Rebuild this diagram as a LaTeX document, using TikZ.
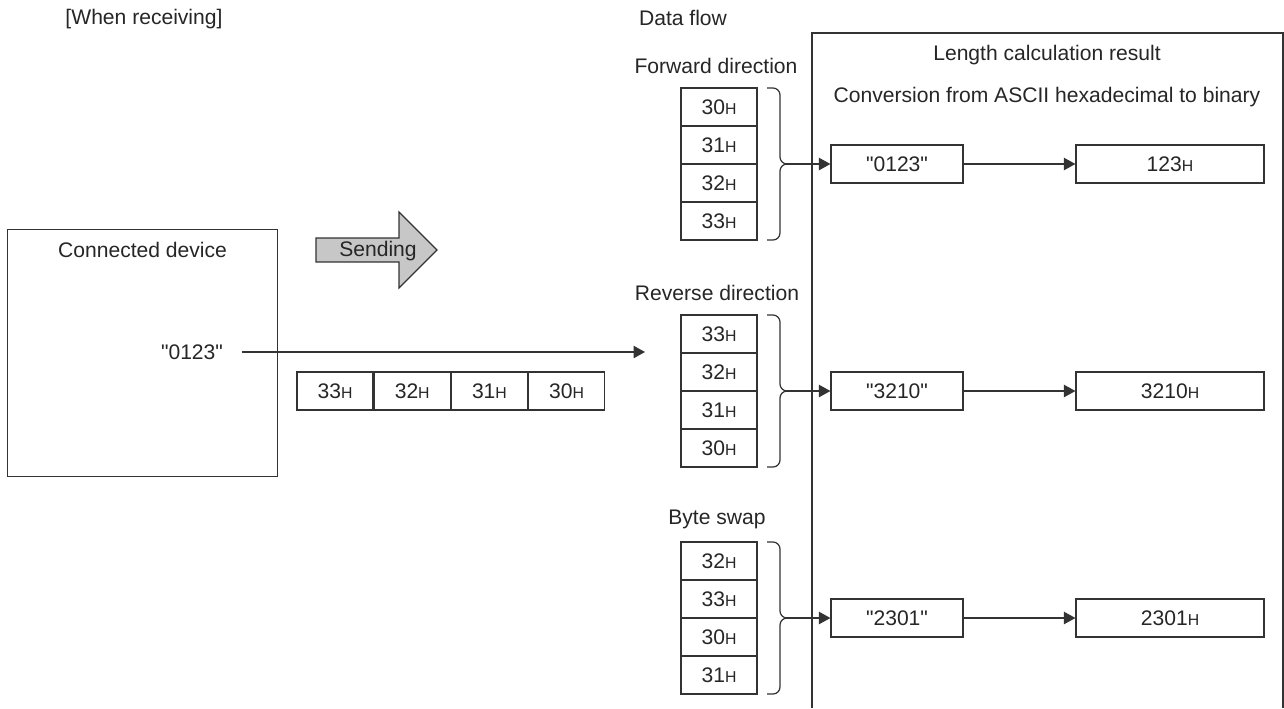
\documentclass[tikz,border=0pt]{standalone}
\usepackage{fontspec}
\setmainfont{Liberation Sans}
\usepackage{tikz}
\usetikzlibrary{arrows.meta,positioning,calc}
\usepackage{xcolor}

\newcommand\hexH[1]{#1{\fontsize{9}{9}\selectfont H}}
\newcommand\qstr[1]{\textquotedbl#1\textquotedbl}

\begin{document}
\begin{tikzpicture}[x=0.02cm,y=-0.02cm,>={Triangle[length=6.5pt,width=7pt]},
  color=black!80,line width=0.7pt,
  every node/.style={font=\fontsize{12}{14}\selectfont,text=black!85},
  cell/.style={draw,minimum width=1.52cm,minimum height=0.76cm,inner sep=0},
  res/.style={draw,minimum height=0.76cm,inner sep=0},
  node distance=0pt]
\useasboundingbox (0,0) rectangle (1284,708);
% titles
\node (W) at (144,19) {[When receiving]};
\node (DF) at (683,18) {Data flow};
% connected device
\node (D) [draw,minimum width=5.4cm,minimum height=4.94cm,anchor=north west] at (7,229) {};
\node (DT) [below=4pt of D.north] {Connected device};
\node (Q) [inner xsep=0.36cm] at (192,352) {\qstr{0123}};
\coordinate (Qin) at (645,352);
\draw[->] (Q.east) -- (Qin);
% sending arrow
\draw[fill=black!22] (316,238) -- (399,238) -- (399,212) -- (437,250) -- (399,288) -- (399,262) -- (316,262) -- cycle;
\node (S) at (378,251) {Sending};
% data on the line
\node (S1) [cell] at (335,391) {\hexH{33}};
\node (S2) [cell,right=of S1] {\hexH{32}};
\node (S3) [cell,right=of S2] {\hexH{31}};
\node (S4) [cell,right=of S3] {\hexH{30}};
% result frame
\draw (812,708) |- (1283,33) -- (1283,708);
\node (LC) at (1047,55) {Length calculation result};
\node (CV) at (1047,97) {Conversion from ASCII hexadecimal to binary};
% forward direction
\node (FD) at (716,66) {Forward direction};
\foreach \v [count=\i] in {30,31,32,33}
  \node (F\i) [cell] at (719,{107+38*(\i-1)}) {\hexH{\v}};
\draw[rounded corners=4pt] (767,88) -- (780,88) -- (780,164) -- (784,164);
\draw[rounded corners=4pt] (767,240) -- (780,240) -- (780,164) -- (784,164);
\coordinate (Ft) at (784,164);
\node (A1) [res,minimum width=2.64cm] at (897,164) {\qstr{0123}};
\node (V1) [res,minimum width=3.76cm] at (1170,164) {\hexH{123}};
\draw[->] (Ft) -- (A1);
\draw[->] (A1) -- (V1);
% reverse direction
\node (RD) at (717,293) {Reverse direction};
\foreach \v [count=\i] in {33,32,31,30}
  \node (R\i) [cell] at (719,{334+38*(\i-1)}) {\hexH{\v}};
\draw[rounded corners=4pt] (767,315) -- (780,315) -- (780,391) -- (784,391);
\draw[rounded corners=4pt] (767,467) -- (780,467) -- (780,391) -- (784,391);
\coordinate (Rt) at (784,391);
\node (A2) [res,minimum width=2.64cm] at (897,391) {\qstr{3210}};
\node (V2) [res,minimum width=3.76cm] at (1170,391) {\hexH{3210}};
\draw[->] (Rt) -- (A2);
\draw[->] (A2) -- (V2);
% byte swap
\node (BS) at (717,519) {Byte swap};
\foreach \v [count=\i] in {32,33,30,31}
  \node (B\i) [cell] at (719,{561+38*(\i-1)}) {\hexH{\v}};
\draw[rounded corners=4pt] (767,542) -- (780,542) -- (780,618) -- (784,618);
\draw[rounded corners=4pt] (767,694) -- (780,694) -- (780,618) -- (784,618);
\coordinate (Bt) at (784,618);
\node (A3) [res,minimum width=2.64cm] at (897,618) {\qstr{2301}};
\node (V3) [res,minimum width=3.76cm] at (1170,618) {\hexH{2301}};
\draw[->] (Bt) -- (A3);
\draw[->] (A3) -- (V3);
\end{tikzpicture}
\end{document}
